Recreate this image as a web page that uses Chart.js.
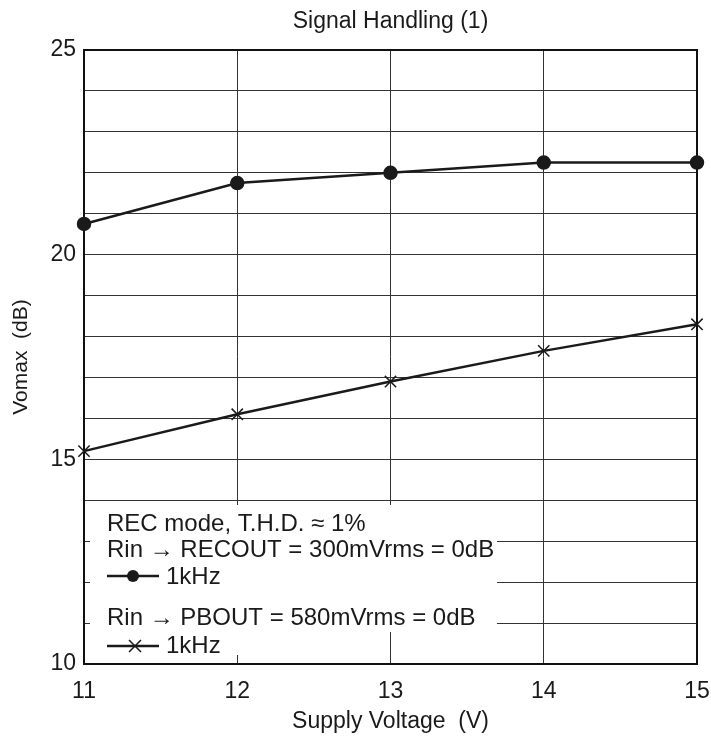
<!DOCTYPE html>
<html>
<head>
<meta charset="utf-8">
<script src="https://cdn.jsdelivr.net/npm/chart.js@4.4.0/dist/chart.umd.min.js"></script>
<style>
  html, body { margin: 0; padding: 0; background: #fff; }
  #wrap { width: 711px; height: 742px; }
</style>
</head>
<body>
<div id="wrap"><canvas id="myChart" width="711" height="742"></canvas></div>
<script>
const voltages = [11, 12, 13, 14, 15];
const recout1k = [20.75, 21.75, 22.0, 22.25, 22.25];
const pbout1k = [15.2, 16.1, 16.9, 17.65, 18.3];
const yTickLabels = [10, 15, 20, 25];
const legendLines = [
  "REC mode, T.H.D. \u2248 1%",
  "Rin \u2192 RECOUT = 300mVrms = 0dB",
  "1kHz",
  "Rin \u2192 PBOUT = 580mVrms = 0dB",
  "1kHz"
];

const FONT = "'Liberation Sans', Arial, Helvetica, sans-serif";
const INK = "#1a1a1a";

// frame, title and the boxed legend in the lower left
const decor = {
  id: "decor",
  beforeDatasetsDraw(chart) {
    const ctx = chart.ctx;
    const a = chart.chartArea;
    ctx.save();
    // frame
    ctx.strokeStyle = "#111";
    ctx.lineWidth = 2;
    ctx.strokeRect(a.left, a.top, a.right - a.left, a.bottom - a.top);
    ctx.restore();
  },
  afterDatasetsDraw(chart) {
    const ctx = chart.ctx;
    const a = chart.chartArea;
    ctx.save();

    // legend mask
    ctx.fillStyle = "#fff";
    ctx.fillRect(a.left + 6, 505, 407, 127);
    ctx.fillRect(a.left + 6, 632, 295, 23);

    ctx.fillStyle = INK;
    ctx.font = "24px " + FONT;
    ctx.textBaseline = "alphabetic";
    ctx.textAlign = "left";
    const tx = a.left + 23;
    ctx.fillText(legendLines[0], tx, 531);
    ctx.fillText(legendLines[1], tx, 557);
    ctx.fillText(legendLines[2], tx + 59, 584);
    ctx.fillText(legendLines[3], tx, 625);
    ctx.fillText(legendLines[4], tx + 59, 653);

    // legend symbols
    ctx.strokeStyle = INK;
    ctx.lineWidth = 2.5;
    ctx.beginPath();
    ctx.moveTo(tx, 576); ctx.lineTo(tx + 52, 576);
    ctx.moveTo(tx, 646); ctx.lineTo(tx + 52, 646);
    ctx.stroke();
    ctx.beginPath();
    ctx.arc(tx + 26, 576, 6, 0, Math.PI * 2);
    ctx.fill();
    ctx.lineWidth = 1.5;
    ctx.beginPath();
    ctx.moveTo(tx + 22, 640); ctx.lineTo(tx + 34, 652);
    ctx.moveTo(tx + 34, 640); ctx.lineTo(tx + 22, 652);
    ctx.stroke();

    // title over the plot area
    ctx.font = "23px " + FONT;
    ctx.textAlign = "center";
    ctx.textBaseline = "middle";
    ctx.fillText("Signal Handling (1)", (a.left + a.right) / 2, 22);
    ctx.restore();
  }
};

new Chart("myChart", {
  type: "line",
  data: {
    datasets: [{
      label: "Rin \u2192 RECOUT 1kHz",
      data: voltages.map((v, i) => ({ x: v, y: recout1k[i] })),
      borderColor: INK,
      backgroundColor: INK,
      borderWidth: 2.5,
      pointStyle: "circle",
      pointRadius: 6,
      pointHoverRadius: 6,
      tension: 0,
      clip: false
    }, {
      label: "Rin \u2192 PBOUT 1kHz",
      data: voltages.map((v, i) => ({ x: v, y: pbout1k[i] })),
      borderColor: INK,
      backgroundColor: INK,
      borderWidth: 2.5,
      pointStyle: "crossRot",
      pointRadius: 8,
      pointBorderWidth: 1.5,
      pointHoverRadius: 8,
      tension: 0,
      clip: false
    }]
  },
  options: {
    responsive: false,
    animation: false,
    events: [],
    layout: { padding: { top: 50, right: 14, left: 0, bottom: 0 } },
    plugins: {
      legend: { display: false },
      title: { display: false },
      tooltip: { enabled: false }
    },
    scales: {
      x: {
        type: "linear",
        min: 11,
        max: 15,
        afterFit(scale) {
          scale.height = 78;
          scale.paddingLeft = 0;
          scale.paddingRight = 0;
        },
        ticks: {
          stepSize: 1,
          padding: 14,
          color: INK,
          font: { family: FONT, size: 23 }
        },
        grid: { color: "#333", lineWidth: 1, drawTicks: false },
        border: { color: "#111", width: 2 },
        title: {
          display: true,
          text: "Supply Voltage  (V)",
          color: INK,
          font: { family: FONT, size: 23 },
          padding: { top: 0, bottom: 7 }
        }
      },
      y: {
        min: 10,
        max: 25,
        afterFit(scale) { scale.width = 84; },
        ticks: {
          stepSize: 1,
          padding: 8,
          color: INK,
          font: { family: FONT, size: 23 },
          callback: (v) => yTickLabels.includes(v) ? String(v) : ""
        },
        grid: { color: "#333", lineWidth: 1, drawTicks: false },
        border: { color: "#111", width: 2 },
        title: {
          display: true,
          text: "Vomax  (dB)",
          color: INK,
          font: { family: FONT, size: 21 },
          padding: { top: 9, bottom: 0 }
        }
      }
    }
  },
  plugins: [decor]
});
</script>
</body>
</html>
